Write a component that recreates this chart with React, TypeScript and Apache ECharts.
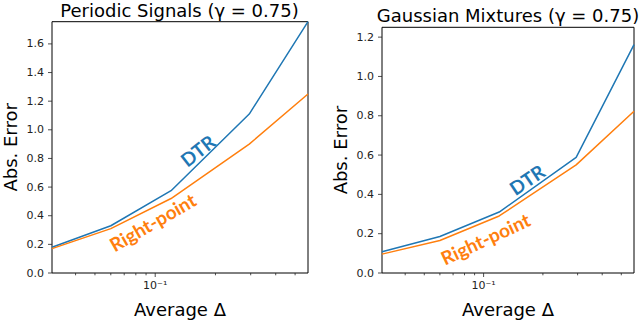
import React, { useEffect, useRef } from 'react';
import * as echarts from 'echarts';

// ---- data ----
const xValues = [0.0305, 0.06, 0.12, 0.295, 0.58];
const periodicDTR = [0.18, 0.33, 0.575, 1.11, 1.755];
const periodicRight = [0.17, 0.31, 0.52, 0.9, 1.25];
const gaussDTR = [0.108, 0.186, 0.31, 0.588, 1.162];
const gaussRight = [0.096, 0.165, 0.29, 0.55, 0.823];

const periodicYTicks = [0, 0.2, 0.4, 0.6, 0.8, 1.0, 1.2, 1.4, 1.6];
const gaussYTicks = [0, 0.2, 0.4, 0.6, 0.8, 1.0, 1.2];
const xMajorTicks = [0.1];
const xMinorTicks = [0.04, 0.05, 0.06, 0.07, 0.08, 0.09, 0.2, 0.3, 0.4, 0.5];

const titles = ['Periodic Signals (γ = 0.75)', 'Gaussian Mixtures (γ = 0.75)'];
const xName = 'Average Δ';
const yName = 'Abs. Error';
const seriesNames = ['DTR', 'Right-point'];

// annotation anchors in data coordinates: [x, y, rotation]
const periodicAnnot = [
  [0.163, 0.856, 38],
  [0.097, 0.356, 30],
];
const gaussAnnot = [
  [0.166, 0.476, 34],
  [0.102, 0.175, 25],
];

const xMin = 0.0305;
const xMax = 0.58;
const yMaxes = [1.755, 1.25];

const BLUE = '#1f77b4';
const ORANGE = '#ff7f0e';
const FONT = 'DejaVu Sans';

function tickSeries(idx: number, yTicks: number[]) {
  const data: number[][] = [
    ...xMajorTicks.map((v) => [v, 0, 0]),
    ...xMinorTicks.map((v) => [v, 0, 1]),
    ...yTicks.map((v) => [xMin, v, 2]),
  ];
  return {
    type: 'custom',
    xAxisIndex: idx,
    yAxisIndex: idx,
    silent: true,
    clip: false,
    z: 5,
    data,
    renderItem: (_params: any, api: any) => {
      const kind = api.value(2);
      const p = api.coord([api.value(0), api.value(1)]);
      let shape;
      if (kind === 2) {
        shape = { x1: p[0] - 4, y1: p[1], x2: p[0], y2: p[1] };
      } else {
        const len = kind === 0 ? 4 : 2.3;
        shape = { x1: p[0], y1: p[1], x2: p[0], y2: p[1] + len };
      }
      return { type: 'line', shape, style: { stroke: '#222', lineWidth: 0.8 } };
    },
  };
}

function lineSeries(idx: number, ys: number[], color: string, name: string) {
  return {
    type: 'line',
    name,
    xAxisIndex: idx,
    yAxisIndex: idx,
    data: xValues.map((x, i) => [x, ys[i]]),
    symbol: 'none',
    lineStyle: { color, width: 1.5 },
    itemStyle: { color },
    z: 3,
  };
}

export default function App() {
  const ref = useRef<HTMLDivElement>(null);
  useEffect(() => {
    if (!ref.current) return;
    const chart = echarts.init(ref.current, null, { renderer: 'svg' });
    const grids = [
      { left: 51, top: 21.7, width: 257, height: 257.3 },
      { left: 382, top: 27.3, width: 252, height: 252 },
    ];
    const yTicksAll = [periodicYTicks, gaussYTicks];
    const xAxis = grids.map((_, i) => ({
      type: 'log',
      logBase: 10,
      gridIndex: i,
      min: xMin,
      max: xMax,
      name: xName,
      nameLocation: 'middle',
      nameGap: 27,
      nameTextStyle: { fontFamily: FONT, fontSize: 18, color: '#000' },
      axisLine: { show: false },
      axisTick: { show: false },
      splitLine: { show: false },
      minorTick: { show: false },
      axisLabel: {
        showMinLabel: false,
        showMaxLabel: false,
        margin: 7,
        fontFamily: FONT,
        fontSize: 11,
        color: '#222',
        formatter: (v: number) => (Math.abs(Math.log10(v) + 1) < 1e-6 ? '10⁻¹' : ''),
      },
    }));
    const yAxis = grids.map((_, i) => ({
      type: 'value',
      gridIndex: i,
      min: 0,
      max: yMaxes[i],
      interval: 0.2,
      name: yName,
      nameLocation: 'middle',
      nameGap: 33,
      nameTextStyle: { fontFamily: FONT, fontSize: 18, color: '#000' },
      axisLine: { show: false },
      axisTick: { show: false },
      splitLine: { show: false },
      axisLabel: {
        showMaxLabel: false,
        margin: 8,
        fontFamily: FONT,
        fontSize: 11,
        color: '#222',
        formatter: (v: number) => v.toFixed(1),
      },
    }));
    const titleGraphics = [
      {
        type: 'text',
        x: 179.5,
        y: 10,
        style: { text: titles[0], align: 'center', verticalAlign: 'middle', font: `18px "${FONT}"`, fill: '#000' },
      },
      {
        type: 'text',
        x: 508,
        y: 15,
        style: { text: titles[1], align: 'center', verticalAlign: 'middle', font: `18px "${FONT}"`, fill: '#000' },
      },
    ];
    chart.setOption({
      animation: false,
      backgroundColor: '#fff',
      grid: grids.map((g) => ({ ...g, show: true, borderColor: '#000', borderWidth: 1, containLabel: false })),
      xAxis,
      yAxis,
      graphic: titleGraphics,
      series: [
        lineSeries(0, periodicDTR, BLUE, seriesNames[0]),
        lineSeries(0, periodicRight, ORANGE, seriesNames[1]),
        lineSeries(1, gaussDTR, BLUE, seriesNames[0]),
        lineSeries(1, gaussRight, ORANGE, seriesNames[1]),
        tickSeries(0, yTicksAll[0]),
        tickSeries(1, yTicksAll[1]),
      ],
    });
    const annots = [
      { grid: 0, a: periodicAnnot[0], color: BLUE, text: seriesNames[0] },
      { grid: 0, a: periodicAnnot[1], color: ORANGE, text: seriesNames[1] },
      { grid: 1, a: gaussAnnot[0], color: BLUE, text: seriesNames[0] },
      { grid: 1, a: gaussAnnot[1], color: ORANGE, text: seriesNames[1] },
    ];
    const annotGraphics = annots.map((o) => {
      const p = chart.convertToPixel({ gridIndex: o.grid }, [o.a[0], o.a[1]]) as number[];
      return {
        type: 'text',
        x: p[0],
        y: p[1],
        rotation: (o.a[2] * Math.PI) / 180,
        z: 10,
        style: {
          text: o.text,
          align: 'center',
          verticalAlign: 'middle',
          font: 'bold 19px "Lato"',
          fill: o.color,
        },
      };
    });
    chart.setOption({ graphic: [...titleGraphics, ...annotGraphics] });
    return () => chart.dispose();
  }, []);
  return <div ref={ref} style={{ position: 'fixed', left: 0, top: 0, width: 640, height: 323 }} />;
}
